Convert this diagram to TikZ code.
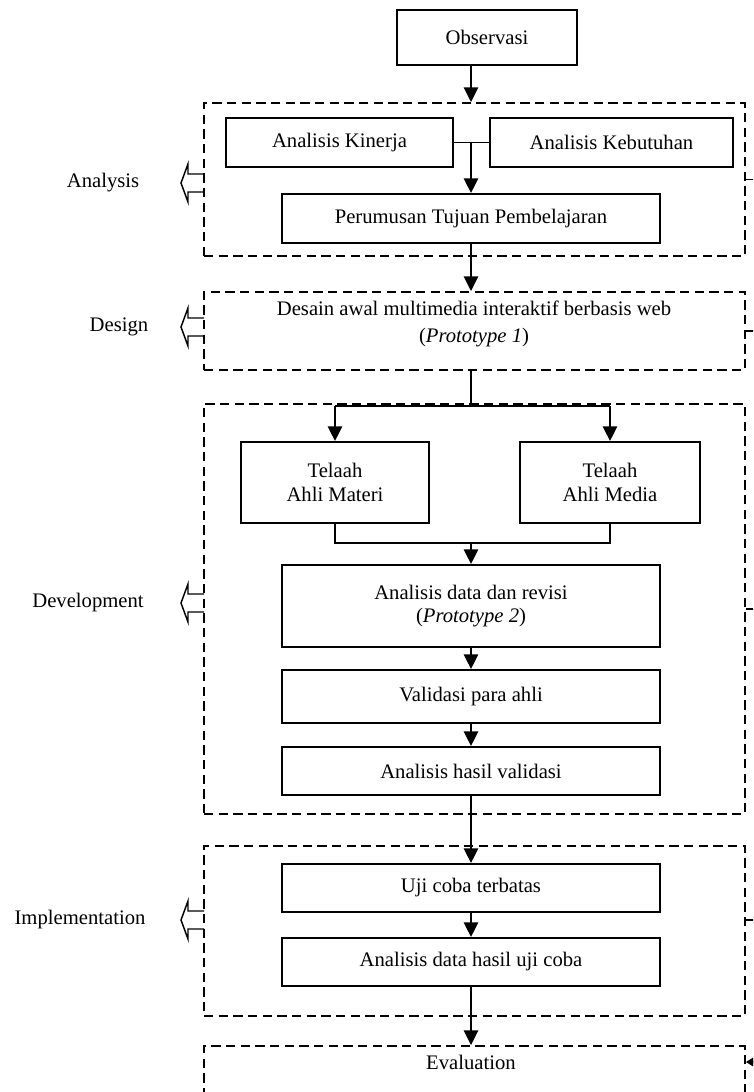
\documentclass[tikz,border=0pt]{standalone}
\usepackage{fontspec}
\setmainfont{Liberation Serif}
\usetikzlibrary{arrows.meta}
\newcommand\pxbox[7]{\node[#2, minimum width={(#5-#3)*0.75pt}, minimum height={(#6-#4)*0.75pt}] (#1) at ({(#3+#5)/2},{(#4+#6)/2}) {#7};}
\newcommand\hollowarr[1]{\draw[hollow] (204,{#1-9}) -- (188,{#1-9}) -- (188,{#1-19}) -- (181,#1) -- (188,{#1+19}) -- (188,{#1+9}) -- (204,{#1+9});}
\begin{document}
\begin{tikzpicture}[x=0.75pt,y=-0.75pt,
  lbl/.style={font=\fontsize{15.5}{17.5}\selectfont},
  box/.style={draw, line width=1.4pt, inner sep=0pt, align=center, lbl},
  dbox/.style={draw, line width=1.3pt, dash pattern=on 7pt off 4pt, inner sep=0pt},
  arr/.style={line width=2pt, -{Triangle[length=11pt,width=10.5pt]}},
  ln/.style={line width=1.4pt},
  hollow/.style={line width=1.1pt, line join=miter}]
\useasboundingbox (0,0) rectangle (753,1092);
\clip (0,0) rectangle (753,1092);
\fill[white] (0,0) rectangle (753,1092);
% boxes
\pxbox{obs}{box}{397}{10}{577}{65}{Observasi}
\pxbox{ana}{dbox}{204}{103}{745}{256}{}
\pxbox{kin}{box}{226}{118}{453}{167}{Analisis Kinerja}
\pxbox{keb}{box}{490}{118}{733}{167}{Analisis Kebutuhan}
\pxbox{tuj}{box}{282}{194}{660}{243}{Perumusan Tujuan Pembelajaran}
\pxbox{des}{dbox}{204}{292}{745}{370}{}
\node[lbl, align=center] (destxt) at (474,324) {Desain awal multimedia interaktif berbasis web\\[3pt](\textit{Prototype 1})};
\pxbox{dev}{dbox}{204}{404}{745}{814}{}
\pxbox{mat}{box}{241}{442}{429}{523}{Telaah\\Ahli Materi}
\pxbox{med}{box}{520}{442}{700}{523}{Telaah\\Ahli Media}
\pxbox{rev}{box}{282}{565}{660}{647}{Analisis data dan revisi\\(\textit{Prototype 2})}
\pxbox{val}{box}{282}{670}{660}{723}{Validasi para ahli}
\pxbox{hval}{box}{282}{747}{660}{795}{Analisis hasil validasi}
\pxbox{imp}{dbox}{204}{846}{745}{1016}{}
\pxbox{uji}{box}{282}{864}{660}{912}{Uji coba terbatas}
\pxbox{hu}{box}{282}{938}{660}{986}{Analisis data hasil uji coba}
\pxbox{eva}{dbox}{204}{1046}{745}{1110}{}
\node[lbl] (evatxt) at (471,1062) {Evaluation};
% left labels
\node[lbl] (lana) at (103,183) {Analysis};
\node[lbl] (ldes) at (119,327) {Design};
\node[lbl] (ldev) at (88,603) {Development};
\node[lbl] (limp) at (80,920) {Implementation};
\hollowarr{183}
\hollowarr{327}
\hollowarr{603}
\hollowarr{920}
% connectors
\draw[arr] (tuj.north |- obs.south) -- (tuj.north |- ana.north);
\draw[ln] (kin.east) -- (keb.west);
\draw[arr] (kin.east -| tuj.north) -- (tuj.north);
\draw[arr] (tuj.south) -- (tuj.south |- des.north);
\coordinate (split) at (471,406);
\draw[ln] (tuj.south |- des.south) -- (split);
\draw[ln] (mat.north |- split) -- (med.north |- split);
\draw[arr] (mat.north |- split) -- (mat.north);
\draw[arr] (med.north |- split) -- (med.north);
\coordinate (join) at (471,543);
\draw[ln] (mat.south) -- (mat.south |- join) -- (med.south |- join) -- (med.south);
\draw[arr] (join) -- (rev.north);
\draw[arr] (rev) -- (val);
\draw[arr] (val) -- (hval);
\draw[arr] (hval) -- (uji);
\draw[arr] (uji) -- (hu);
\draw[arr] (hu.south) -- (hu.south |- eva.north);
% right feedback ticks
\draw[ln] (ana.east) -- ++(12,0);
\draw[ln] (des.east) -- ++(12,0);
\draw[ln] (dev.east) -- ++(12,0);
\coordinate (impt) at (745,920);
\draw[ln] (impt) -- ++(12,0);
\coordinate (fb) at (760,1062);
\draw[line width=1.3pt, -{Triangle[length=6pt,width=7pt]}] (fb) -- (eva.east |- fb);
\end{tikzpicture}
\end{document}
